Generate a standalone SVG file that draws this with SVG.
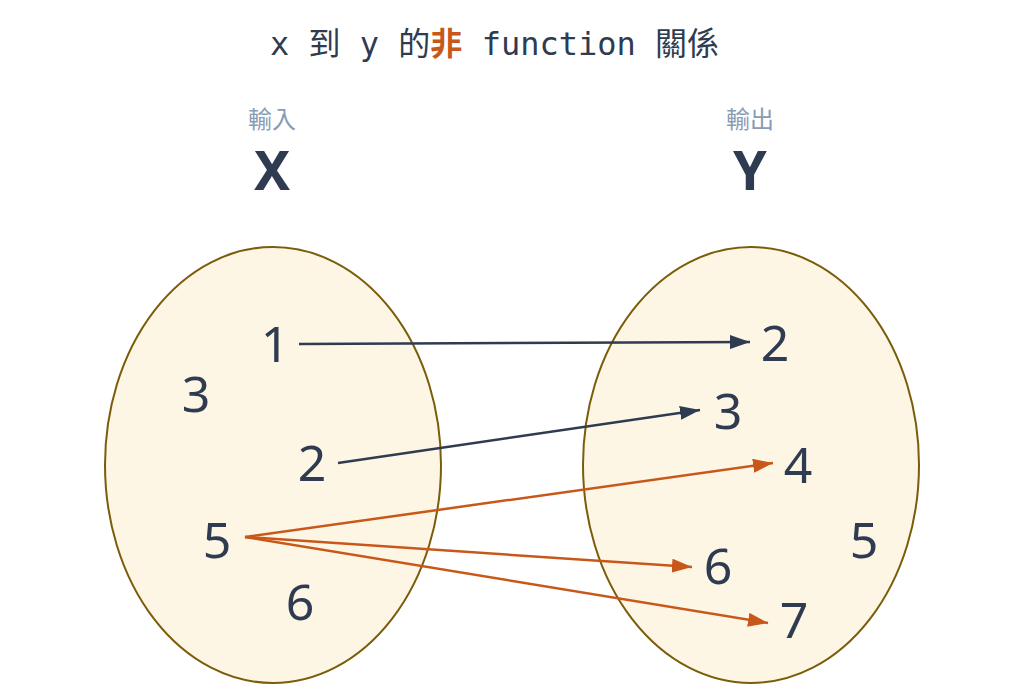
<svg xmlns="http://www.w3.org/2000/svg" width="1024" height="699" viewBox="0 0 1024 699">
<defs>
<style>
.title{font-family:"DejaVu Sans Mono","Noto Sans CJK TC",monospace;font-size:32px;fill:#2e3b50}
.hl{fill:#c8581a;font-weight:bold}
.sub{font-family:"Noto Sans CJK TC",sans-serif;font-size:24px;fill:#8a9bb5;text-anchor:middle}
.big{font-family:"Noto Sans","Liberation Sans",sans-serif;font-size:54px;font-weight:bold;fill:#2e3b50;text-anchor:middle}
.num{font-family:"Noto Sans","Liberation Sans",sans-serif;font-size:50px;fill:#2e3b50;text-anchor:middle}
.set{fill:#fef6e4;stroke:#7a5c0a;stroke-width:2}
.dk{stroke:#2e3b50;stroke-width:2.5;fill:none}
.or{stroke:#c8581a;stroke-width:2.5;fill:none}
</style>
<marker id="md" viewBox="0 0 20 14" refX="20" refY="7" markerWidth="20" markerHeight="14" markerUnits="userSpaceOnUse" orient="auto">
<path d="M0,0 L20,7 L0,14 z" fill="#2e3b50"/>
</marker>
<marker id="mo" viewBox="0 0 20 14" refX="20" refY="7" markerWidth="20" markerHeight="14" markerUnits="userSpaceOnUse" orient="auto">
<path d="M0,0 L20,7 L0,14 z" fill="#c8581a"/>
</marker>
</defs>
<rect width="1024" height="699" fill="#ffffff"/>
<text class="title" x="270" y="55" xml:space="preserve">x 到 y 的<tspan class="hl">非</tspan> function 關係</text>
<g id="labelX"><text class="sub" x="272" y="128">輸入</text><text class="big" x="272" y="190">X</text></g>
<g id="labelY"><text class="sub" x="750" y="128">輸出</text><text class="big" x="750" y="190">Y</text></g>
<g id="setX"><ellipse class="set" cx="273" cy="465" rx="168" ry="218"/>
<text class="num" x="275" y="362">1</text>
<text class="num" x="196" y="412">3</text>
<text class="num" x="312" y="481">2</text>
<text class="num" x="217" y="558">5</text>
<text class="num" x="300" y="620">6</text>
</g>
<g id="setY"><ellipse class="set" cx="751" cy="465" rx="168" ry="218"/>
<text class="num" x="775" y="361">2</text>
<text class="num" x="728" y="429">3</text>
<text class="num" x="798" y="483">4</text>
<text class="num" x="864" y="558">5</text>
<text class="num" x="718" y="584">6</text>
<text class="num" x="794" y="638">7</text>
</g>
<g id="connectors">
<line class="dk" x1="299" y1="344" x2="750" y2="342" marker-end="url(#md)"/>
<line class="dk" x1="338" y1="463" x2="700" y2="410" marker-end="url(#md)"/>
<line class="or" x1="245" y1="537" x2="773" y2="463" marker-end="url(#mo)"/>
<line class="or" x1="245" y1="537" x2="692" y2="567" marker-end="url(#mo)"/>
<line class="or" x1="245" y1="537" x2="768" y2="623" marker-end="url(#mo)"/>
</g>
</svg>
